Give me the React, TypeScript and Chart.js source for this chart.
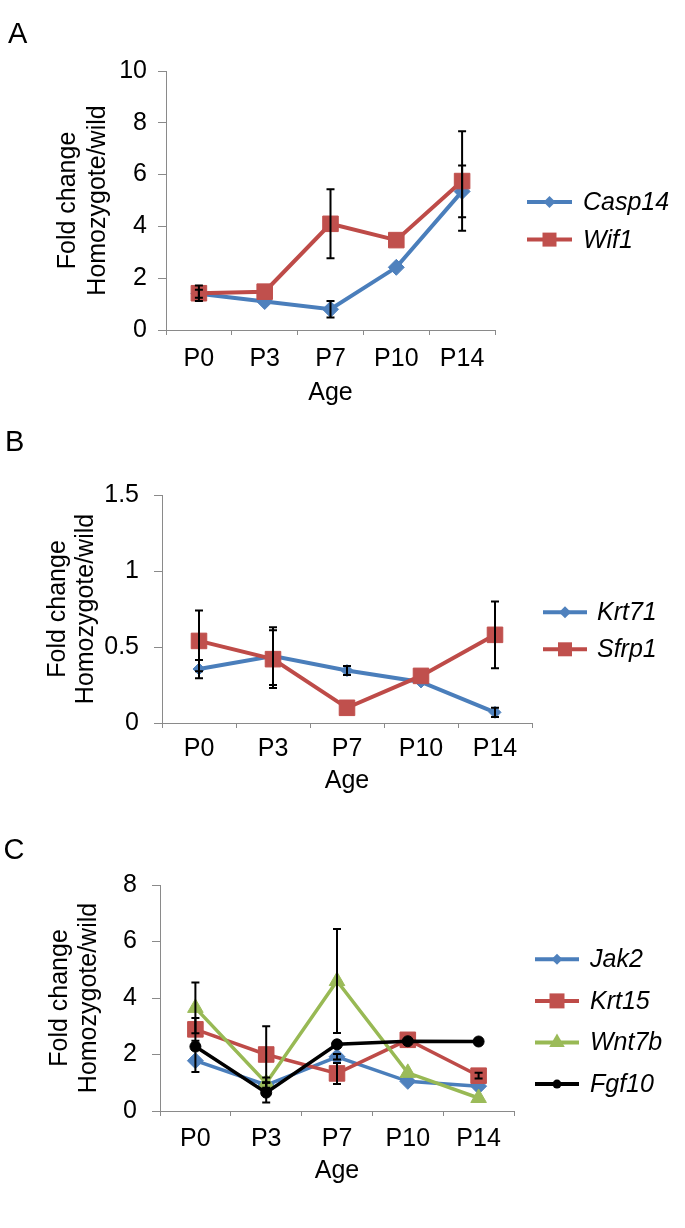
import React, { useEffect, useRef } from 'react';
import { Chart, registerables } from 'chart.js';

Chart.register(...registerables);

const FONT = '"Liberation Sans", Arial, sans-serif';
const FS = 25;

// ---- shared ----
const ages = ['P0', 'P3', 'P7', 'P10', 'P14'];
const yTitle = ['Fold change', 'Homozygote/wild'];
const xTitle = 'Age';

// ---- Panel A ----
const seriesNamesA = ['Casp14', 'Wif1'];
const casp14 = [1.4, 1.1, 0.8, 2.42, 5.35];
const casp14Err = [0.15, 0, 0.32, 0, 1.0];
const wif1 = [1.42, 1.48, 4.1, 3.47, 5.75];
const wif1Err = [0.3, 0, 1.33, 0, 1.92];
const yTicksA = [0, 2, 4, 6, 8, 10];

// ---- Panel B ----
const seriesNamesB = ['Krt71', 'Sfrp1'];
const krt71 = [0.355, 0.44, 0.345, 0.27, 0.07];
const krt71Err = [0.06, 0.19, 0.03, 0, 0.03];
const sfrp1 = [0.54, 0.42, 0.1, 0.31, 0.58];
const sfrp1Err = [0.2, 0.19, 0, 0, 0.22];
const yTicksB = [0, 0.5, 1, 1.5];

// ---- Panel C ----
const seriesNamesC = ['Jak2', 'Krt15', 'Wnt7b', 'Fgf10'];
const jak2 = [1.78, 0.92, 1.92, 1.05, 0.88];
const jak2Err = [0.4, 0.1, 0.1, 0, 0];
const krt15 = [2.89, 2.0, 1.33, 2.52, 1.25];
const krt15Err = [0.4, 1.0, 0.37, 0, 0.1];
const wnt7b = [3.65, 0.99, 4.6, 1.35, 0.46];
const wnt7bErr = [0.9, 0.2, 1.84, 0, 0];
const fgf10 = [2.28, 0.65, 2.36, 2.47, 2.46];
const fgf10Err = [0.12, 0.35, 0.1, 0, 0.1];
const yTicksC = [0, 2, 4, 6, 8];

const BLUE = { line: '#4A7EBB', fill: '#4F81BD' };
const RED = { line: '#BE4B48', fill: '#C0504D' };
const GREEN = { line: '#98B954', fill: '#9BBB59' };
const BLACK = { line: '#000000', fill: '#000000' };
const AXIS = '#8a8a8a';

type Series = {
  name: string;
  values: number[];
  errs: number[];
  color: { line: string; fill: string };
  style: string;
  r: number;
  legendR: number;
};

type PanelCfg = {
  top: number;
  height: number;
  padTop: number;
  padRight: number;
  yWidth: number;
  xHeight: number;
  yTitleLH: number;
  yTitlePad: number;
  yTickPad: number;
  xTickPad: number;
  xTitlePad: number;
  yMax: number;
  yTicks: number[];
  series: Series[];
  legend: { x0: number; x1: number; tx: number; y0: number; dy: number };
  lineWidth: number;
};

function drawMarker(ctx: CanvasRenderingContext2D, style: string, x: number, y: number, r: number, fill: string) {
  ctx.save();
  ctx.fillStyle = fill;
  ctx.beginPath();
  if (style === 'rect') {
    ctx.rect(x - r, y - r, 2 * r, 2 * r);
  } else if (style === 'rectRot') {
    ctx.moveTo(x, y - r);
    ctx.lineTo(x + r, y);
    ctx.lineTo(x, y + r);
    ctx.lineTo(x - r, y);
    ctx.closePath();
  } else if (style === 'triangle') {
    ctx.moveTo(x, y - r);
    ctx.lineTo(x + r * 0.866, y + r / 2);
    ctx.lineTo(x - r * 0.866, y + r / 2);
    ctx.closePath();
  } else {
    ctx.arc(x, y, r, 0, Math.PI * 2);
  }
  ctx.fill();
  ctx.restore();
}

function makeChart(canvas: HTMLCanvasElement, cfg: PanelCfg) {
  const n = cfg.series.length;
  const errorBars = {
    id: 'errorBars',
    afterDatasetsDraw(chart: any) {
      const ctx = chart.ctx;
      const ys = chart.scales.y;
      ctx.save();
      ctx.strokeStyle = '#000';
      ctx.lineWidth = 2;
      cfg.series.forEach((s, i) => {
        const meta = chart.getDatasetMeta(i);
        s.values.forEach((v, j) => {
          const e = s.errs[j];
          if (!e) return;
          const x = meta.data[j].x;
          const yTop = ys.getPixelForValue(v + e);
          const yBot = ys.getPixelForValue(v - e);
          ctx.beginPath();
          ctx.moveTo(x, yTop);
          ctx.lineTo(x, yBot);
          ctx.moveTo(x - 4, yTop);
          ctx.lineTo(x + 4, yTop);
          ctx.moveTo(x - 4, yBot);
          ctx.lineTo(x + 4, yBot);
          ctx.stroke();
        });
      });
      ctx.restore();
    },
  };
  const legend = {
    id: 'customLegend',
    afterDraw(chart: any) {
      const ctx = chart.ctx;
      const L = cfg.legend;
      ctx.save();
      cfg.series.forEach((s, i) => {
        const y = L.y0 + i * L.dy;
        ctx.strokeStyle = s.color.line;
        ctx.lineWidth = 4;
        ctx.beginPath();
        ctx.moveTo(L.x0, y);
        ctx.lineTo(L.x1, y);
        ctx.stroke();
        drawMarker(ctx, s.style, (L.x0 + L.x1) / 2, y, s.legendR, s.color.fill);
        ctx.fillStyle = '#000';
        ctx.font = 'italic ' + FS + 'px ' + FONT;
        ctx.textBaseline = 'middle';
        ctx.textAlign = 'left';
        ctx.fillText(s.name, L.tx, y + 1);
      });
      ctx.restore();
    },
  };

  return new Chart(canvas, {
    type: 'line',
    data: {
      labels: ages,
      datasets: cfg.series.map((s, i) => ({
        label: s.name,
        data: s.values,
        borderColor: s.color.line,
        backgroundColor: s.color.fill,
        borderWidth: cfg.lineWidth,
        pointStyle: s.style,
        pointRadius: s.r,
        pointBackgroundColor: s.color.fill,
        pointBorderColor: s.color.fill,
        pointBorderWidth: 1,
        tension: 0,
        fill: false,
        order: n - 1 - i,
        clip: false,
      })),
    },
    options: {
      responsive: false,
      animation: false,
      devicePixelRatio: 1,
      layout: { padding: { top: cfg.padTop, left: 0, right: cfg.padRight, bottom: 0 } },
      plugins: { legend: { display: false }, tooltip: { enabled: false } },
      scales: {
        x: {
          type: 'category',
          offset: true,
          grid: { offset: true, drawOnChartArea: false, drawTicks: true, tickLength: 5, color: AXIS, lineWidth: 1 },
          border: { display: true, color: AXIS, width: 1 },
          ticks: { color: '#000', font: { family: FONT, size: FS }, padding: cfg.xTickPad, maxRotation: 0, autoSkip: false },
          title: {
            display: true,
            text: xTitle,
            color: '#000',
            font: { family: FONT, size: FS, lineHeight: '29px' },
            padding: { top: 0, bottom: cfg.xTitlePad },
          },
          afterFit(scale: any) {
            scale.height = cfg.xHeight;
          },
        },
        y: {
          min: 0,
          max: cfg.yMax,
          grid: { drawOnChartArea: false, drawTicks: true, tickLength: 8, color: AXIS, lineWidth: 1 },
          border: { display: true, color: AXIS, width: 1 },
          ticks: {
            color: '#000',
            font: { family: FONT, size: FS },
            padding: cfg.yTickPad,
            callback: (v: any) => String(v),
          },
          afterBuildTicks(scale: any) {
            scale.ticks = cfg.yTicks.map((v) => ({ value: v }));
          },
          title: {
            display: true,
            text: yTitle,
            color: '#000',
            font: { family: FONT, size: FS, lineHeight: cfg.yTitleLH + 'px' },
            padding: { top: cfg.yTitlePad, bottom: 0 },
          },
          afterFit(scale: any) {
            scale.width = cfg.yWidth;
          },
        },
      },
    } as any,
    plugins: [errorBars, legend],
  });
}

const panelA: PanelCfg = {
  top: 0,
  height: 420,
  padTop: 71,
  padRight: 190,
  yWidth: 166,
  xHeight: 90,
  yTitleLH: 30,
  yTitlePad: 53,
  yTickPad: 11,
  xTickPad: 9,
  xTitlePad: 12,
  yMax: 10,
  yTicks: yTicksA,
  lineWidth: 4,
  series: [
    { name: seriesNamesA[0], values: casp14, errs: casp14Err, color: BLUE, style: 'rectRot', r: 8, legendR: 6 },
    { name: seriesNamesA[1], values: wif1, errs: wif1Err, color: RED, style: 'rect', r: 11, legendR: 7 },
  ],
  legend: { x0: 527, x1: 572, tx: 583, y0: 202, dy: 37.6 },
};

const panelB: PanelCfg = {
  top: 420,
  height: 385,
  padTop: 75,
  padRight: 153,
  yWidth: 162,
  xHeight: 82,
  yTitleLH: 28,
  yTitlePad: 44,
  yTickPad: 15,
  xTickPad: 6,
  xTitlePad: 9,
  yMax: 1.5,
  yTicks: yTicksB,
  lineWidth: 4,
  series: [
    { name: seriesNamesB[0], values: krt71, errs: krt71Err, color: BLUE, style: 'rectRot', r: 6, legendR: 6 },
    { name: seriesNamesB[1], values: sfrp1, errs: sfrp1Err, color: RED, style: 'rect', r: 11, legendR: 7 },
  ],
  legend: { x0: 543, x1: 587, tx: 597, y0: 192.3, dy: 37 },
};

const panelC: PanelCfg = {
  top: 805,
  height: 390,
  padTop: 80,
  padRight: 171,
  yWidth: 160,
  xHeight: 84,
  yTitleLH: 29,
  yTitlePad: 45.5,
  yTickPad: 15,
  xTickPad: 8,
  xTitlePad: 9.6,
  yMax: 8,
  yTicks: yTicksC,
  lineWidth: 3.5,
  series: [
    { name: seriesNamesC[0], values: jak2, errs: jak2Err, color: BLUE, style: 'rectRot', r: 8, legendR: 5.5 },
    { name: seriesNamesC[1], values: krt15, errs: krt15Err, color: RED, style: 'rect', r: 11, legendR: 7.5 },
    { name: seriesNamesC[2], values: wnt7b, errs: wnt7bErr, color: GREEN, style: 'triangle', r: 9, legendR: 9 },
    { name: seriesNamesC[3], values: fgf10, errs: fgf10Err, color: BLACK, style: 'circle', r: 5.5, legendR: 4.5 },
  ],
  legend: { x0: 535, x1: 579, tx: 590, y0: 154.3, dy: 41.6 },
};

const panels = [panelA, panelB, panelC];
const panelLetters = [
  { text: 'A', left: 8, top: 18.8 },
  { text: 'B', left: 5, top: 427.2 },
  { text: 'C', left: 3.5, top: 834.5 },
];

export default function App() {
  const refs = [useRef<HTMLCanvasElement>(null), useRef<HTMLCanvasElement>(null), useRef<HTMLCanvasElement>(null)];
  useEffect(() => {
    const charts = panels.map((p, i) => makeChart(refs[i].current as HTMLCanvasElement, p));
    return () => charts.forEach((c) => c.destroy());
  }, []);
  return (
    <div style={{ position: 'absolute', left: 0, top: 0, width: 685, height: 1228, background: '#fff', overflow: 'hidden' }}>
      {panels.map((p, i) => (
        <canvas
          key={i}
          ref={refs[i]}
          width={685}
          height={p.height}
          style={{ position: 'absolute', left: 0, top: p.top, width: 685, height: p.height, display: 'block' }}
        />
      ))}
      {panelLetters.map((l) => (
        <div
          key={l.text}
          style={{
            position: 'absolute',
            left: l.left,
            top: l.top,
            fontFamily: FONT,
            fontSize: 29,
            lineHeight: '29px',
            color: '#000',
          }}
        >
          {l.text}
        </div>
      ))}
    </div>
  );
}
